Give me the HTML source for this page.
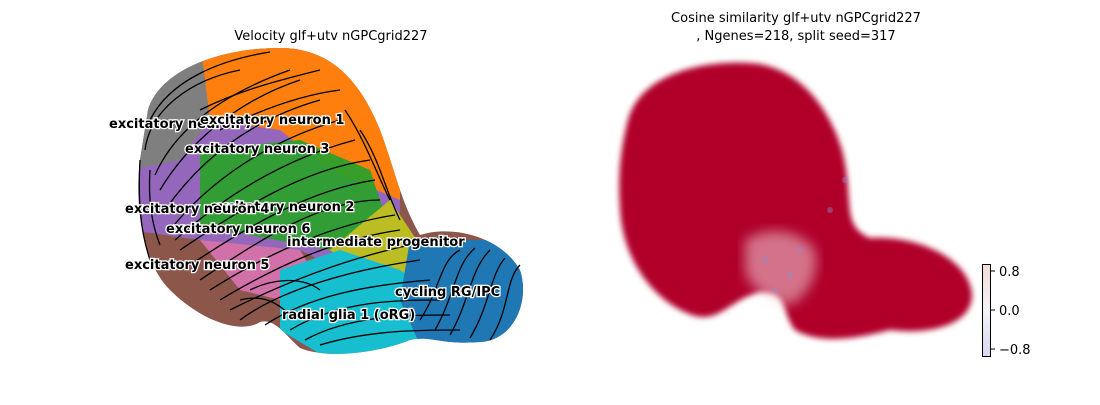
<!DOCTYPE html>
<html><head><meta charset="utf-8"><style>
body{margin:0;background:#fff;width:1100px;height:400px;overflow:hidden;font-family:"Liberation Sans","DejaVu Sans",sans-serif}
svg text{font-family:"DejaVu Sans","Liberation Sans",sans-serif}
.lbl{font-size:13px;font-weight:bold;fill:#000;stroke:#fff;stroke-width:2.5px;paint-order:stroke}
.sl path{fill:none;stroke:#000;stroke-width:1.3}
</style></head><body>
<svg width="1100" height="400">
<defs>
<filter id="blur"><feGaussianBlur stdDeviation="3"/></filter>
<filter id="blur2"><feGaussianBlur stdDeviation="6"/></filter>
<clipPath id="leftclip"><path d="M148,110 C160,70 220,48 280,48 C330,48 360,80 380,130 C395,170 400,200 420,235 C450,225 500,235 520,270 C530,300 515,340 480,342 C440,345 430,335 410,340 C380,352 330,360 300,348 C285,335 275,318 260,322 C240,335 200,320 170,290 C140,260 135,200 140,160 Z"/></clipPath>
</defs>
<text x="331" y="40" text-anchor="middle" font-size="13">Velocity glf+utv nGPCgrid227</text>
<g clip-path="url(#leftclip)">
<rect x="130" y="40" width="400" height="330" fill="#8c564b"/>
<path d="M130,40 L400,40 L400,300 L300,250 L200,240 L130,230 Z" fill="#9467bd"/>
<path d="M130,40 L250,40 L210,120 L180,160 L130,170 Z" fill="#7f7f7f"/>
<path d="M200,40 L400,40 L400,200 L330,170 L280,130 L210,120 Z" fill="#ff7f0e"/>
<path d="M200,150 L300,140 L370,170 L390,230 L330,250 L250,235 L200,225 Z" fill="#2ca02c" opacity="0.95"/>
<path d="M330,250 L390,200 L430,260 L420,300 L370,280 Z" fill="#bcbd22"/>
<path d="M200,240 L300,250 L330,300 L280,300 L240,290 Z" fill="#e377c2" opacity="0.8"/>
<path d="M280,270 L340,250 L400,270 L440,300 L430,350 L330,360 L280,330 Z" fill="#17becf"/>
<path d="M410,240 L530,240 L530,350 L420,345 L400,300 Z" fill="#1f77b4"/>
</g>
<g class="sl">
<path d="M150,120 C170,80 220,60 270,52"/>
<path d="M145,150 C150,110 190,80 240,70"/>
<path d="M155,175 C175,130 220,95 290,70"/>
<path d="M160,190 C190,140 240,100 300,80"/>
<path d="M165,210 C200,160 250,120 320,100"/>
<path d="M170,230 C210,180 270,140 340,120"/>
<path d="M175,240 C220,200 280,160 355,140"/>
<path d="M180,250 C240,210 300,170 370,160"/>
<path d="M190,265 C250,225 310,190 375,180"/>
<path d="M200,280 C260,240 320,200 380,200"/>
<path d="M210,290 C265,255 330,225 395,215"/>
<path d="M220,300 C270,270 330,240 400,230"/>
<path d="M230,310 C280,285 340,260 410,245"/>
<path d="M240,320 C280,290 350,270 420,260"/>
<path d="M265,325 C310,295 370,285 430,280"/>
<path d="M290,330 C340,300 400,300 440,300"/>
<path d="M305,340 C350,315 410,315 450,315"/>
<path d="M320,345 C370,330 420,330 460,330"/>
<path d="M420,320 C440,290 440,260 460,250"/>
<path d="M435,330 C455,295 455,265 475,248"/>
<path d="M450,335 C470,300 470,270 490,250"/>
<path d="M470,338 C490,305 490,275 505,258"/>
<path d="M490,340 C510,310 505,280 520,265"/>
<path d="M140,160 C138,200 140,230 150,260"/>
<path d="M150,170 C148,200 152,225 160,245"/>
<path d="M360,130 C380,160 385,190 400,220"/>
<path d="M345,110 C365,140 375,170 390,200"/>
<path d="M200,110 C240,90 280,80 320,70"/>
<path d="M220,130 C260,110 300,95 340,90"/>
<path d="M250,290 C270,280 300,275 320,290"/>
<path d="M240,300 C260,295 275,300 290,315"/>
</g>
<g>
<text class="lbl" x="109" y="128">excitatory neuron 7</text>
<text class="lbl" x="200" y="124">excitatory neuron 1</text>
<text class="lbl" x="185" y="153">excitatory neuron 3</text>
<text class="lbl" x="210" y="211">excitatory neuron 2</text>
<text class="lbl" x="125" y="213">excitatory neuron 4</text>
<text class="lbl" x="166" y="233">excitatory neuron 6</text>
<text class="lbl" x="287" y="246">intermediate progenitor</text>
<text class="lbl" x="125" y="269">excitatory neuron 5</text>
<text class="lbl" x="395" y="296">cycling RG/IPC</text>
<text class="lbl" x="282" y="319">radial glia 1 (oRG)</text>
</g>
<text x="796" y="22" text-anchor="middle" font-size="13">Cosine similarity glf+utv nGPCgrid227</text>
<text x="796" y="40" text-anchor="middle" font-size="13">, Ngenes=218, split seed=317</text>
<g>
<path filter="url(#blur)" fill="#b0052a" d="M628,120 C640,75 700,60 750,63 C800,66 830,110 842,150 C855,200 840,225 870,238 C920,235 970,260 972,295 C972,325 930,335 890,330 C860,338 820,345 795,330 C780,310 790,292 760,292 C730,300 720,322 695,316 C660,305 628,270 621,220 C617,180 620,150 628,120 Z"/>
<path fill="#f0d0d8" opacity="0.55" filter="url(#blur2)" d="M745,240 C770,225 800,230 815,250 C820,270 810,295 790,305 C770,300 750,290 745,270 Z"/>
<circle cx="765" cy="260" r="3" fill="#8a90d8" opacity="0.4"/>
<circle cx="790" cy="275" r="3" fill="#8a90d8" opacity="0.4"/>
<circle cx="775" cy="290" r="3" fill="#8a90d8" opacity="0.4"/>
<circle cx="800" cy="250" r="3" fill="#8a90d8" opacity="0.4"/>
<circle cx="830" cy="210" r="3" fill="#8a90d8" opacity="0.4"/>
<circle cx="845" cy="180" r="3" fill="#8a90d8" opacity="0.4"/>
</g>
<g>
<defs><linearGradient id="cb" x1="0" y1="0" x2="0" y2="1"><stop offset="0" stop-color="#f3dcd8"/><stop offset="0.5" stop-color="#f4f4f8"/><stop offset="1" stop-color="#d6d9f0"/></linearGradient></defs>
<rect x="982.5" y="264.5" width="8" height="92" fill="url(#cb)" stroke="#000" stroke-width="1"/>
<g font-size="13">
<line x1="991" y1="271" x2="995" y2="271" stroke="#000"/><text x="999" y="276">0.8</text>
<line x1="991" y1="310" x2="995" y2="310" stroke="#000"/><text x="999" y="315">0.0</text>
<line x1="991" y1="349" x2="995" y2="349" stroke="#000"/><text x="999" y="354">−0.8</text>
</g>
</g>
</svg>
</body></html>
